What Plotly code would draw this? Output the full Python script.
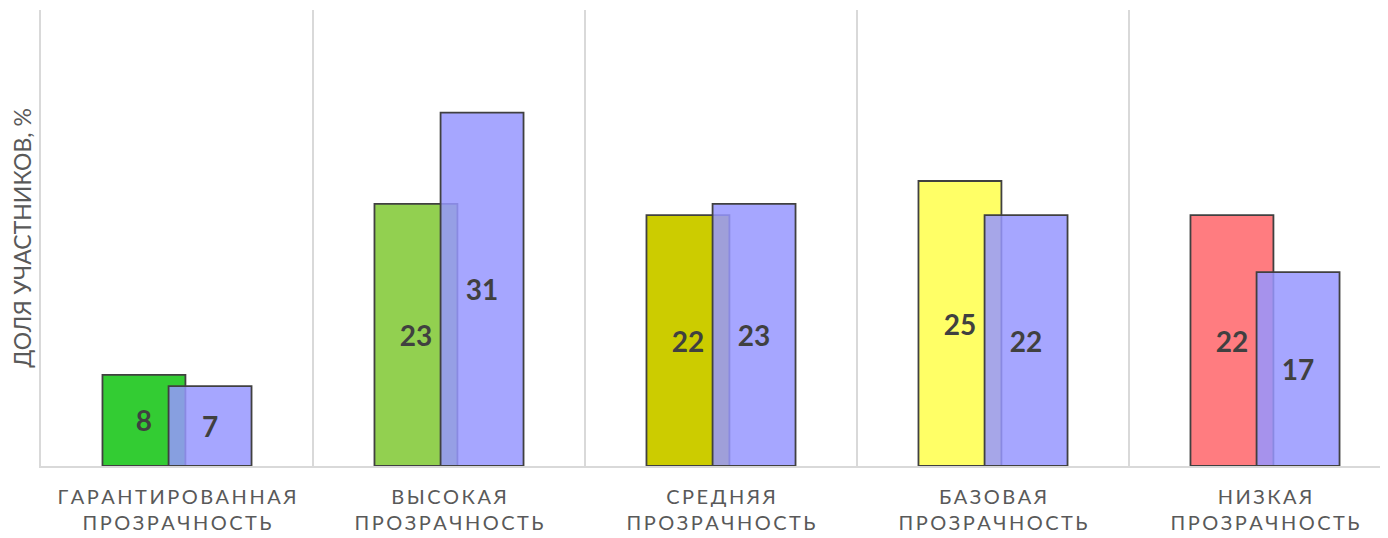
import plotly.graph_objects as go

categories = ["ГАРАНТИРОВАННАЯ\nПРОЗРАЧНОСТЬ", "ВЫСОКАЯ\nПРОЗРАЧНОСТЬ", "СРЕДНЯЯ\nПРОЗРАЧНОСТЬ",
              "БАЗОВАЯ\nПРОЗРАЧНОСТЬ", "НИЗКАЯ\nПРОЗРАЧНОСТЬ"]
series_a = [8, 23, 22, 25, 22]
series_b = [7, 31, 23, 22, 17]
colors_a = ["#33CC33", "#92D050", "#CCCC00", "#FFFF66", "#FF7C80"]
color_b = "rgba(150,150,255,0.85)"
y_title = "ДОЛЯ УЧАСТНИКОВ, %"

def spaced(label):
    lines = label.split("\n")
    return "<br>".join("\u2009".join(list(l)) for l in lines)

x = list(range(len(categories)))
W = 0.305
fig = go.Figure()
fig.add_trace(go.Bar(
    x=x, y=series_a, width=W, offset=-0.274,
    marker=dict(color=colors_a, line=dict(color="#404040", width=1.8)),
    text=series_a, textposition="inside", insidetextanchor="middle",
    textfont=dict(family="Lato", size=28, color="#404040", weight="bold"),
    showlegend=False,
))
fig.add_trace(go.Bar(
    x=x, y=series_b, width=W, offset=-0.031,
    marker=dict(color=color_b, line=dict(color="#404040", width=1.8)),
    text=series_b, textposition="inside", insidetextanchor="middle",
    textfont=dict(family="Lato", size=28, color="#404040", weight="bold"),
    showlegend=False,
))

# page body has an 8px margin: plot area must land at x 41..1388, y 10..466
fig.update_layout(
    width=1388, height=538,
    margin=dict(l=33, r=8, t=2, b=80),
    barmode="overlay",
    plot_bgcolor="white", paper_bgcolor="white",
    font=dict(family="Lato", color="#595959"),
)
fig.update_xaxes(
    automargin=False,
    range=[-0.5, -0.5 + 1347 / 272],
    tickvals=x, ticktext=[spaced(c) for c in categories],
    tickfont=dict(size=20, color="#595959"),
    showgrid=False, zeroline=False,
    showline=True, linecolor="#D9D9D9", linewidth=2,
    ticks="", ticklabelstandoff=12,
    minor=dict(tick0=0.5, dtick=1, showgrid=True, gridcolor="#D9D9D9", gridwidth=2),
)
fig.update_yaxes(
    automargin=False,
    range=[0, 40], showticklabels=False, showgrid=False, zeroline=False,
    showline=True, linecolor="#D9D9D9", linewidth=2,
    title=dict(text=y_title, font=dict(size=23, color="#595959"), standoff=1),
)
fig.add_shape(type="line", xref="x", yref="paper", x0=4.5, x1=4.5, y0=0.02, y1=-0.2,
              line=dict(color="#D9D9D9", width=2))
fig.write_html("out.html")
